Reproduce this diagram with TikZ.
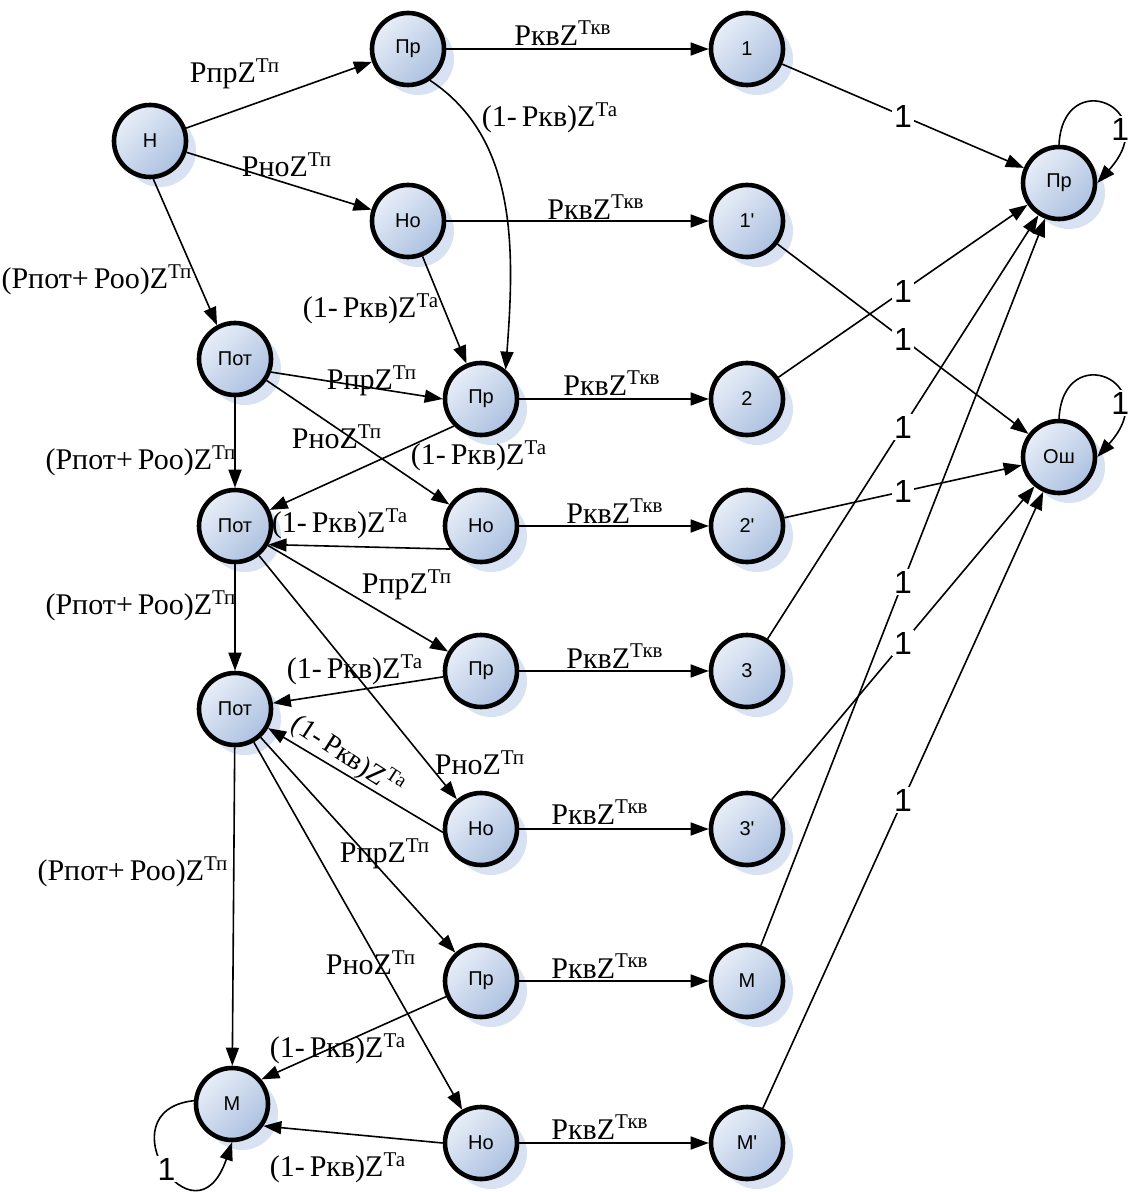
\documentclass[tikz,border=0pt]{standalone}
\usepackage{fontspec}
\setmainfont{Liberation Serif}
\newfontfamily\sansnode{Liberation Sans}
\usepackage{tikz}
\usetikzlibrary{shadows, arrows.meta, positioning}
\definecolor{nodelight}{RGB}{232,238,248}
\definecolor{nodedark}{RGB}{172,193,224}
\definecolor{shadowblue}{RGB}{216,226,242}
\newcommand{\kvT}{РквZ\textsuperscript{Ткв}}
\newcommand{\prT}{РпрZ\textsuperscript{Тп}}
\newcommand{\noT}{РноZ\textsuperscript{Тп}}
\newcommand{\potT}{(Рпот+\,Роо)Z\textsuperscript{Тп}}
\newcommand{\backT}{(1-\,Ркв)Z\textsuperscript{Та}}
\tikzset{
    state/.style={circle, draw, line width=2.3pt, minimum size=36pt, inner sep=0pt,
        top color=nodelight, bottom color=nodedark, shading angle=45,
        general shadow={fill=shadowblue, shadow xshift=5pt, shadow yshift=-5pt},
        font=\sansnode\fontsize{10}{11}\selectfont}, % states of the graph
    arr/.style={-{Triangle[length=9pt,width=6.5pt]}, line width=0.8pt},
    lbl/.style={inner sep=0pt, font=\fontsize{15}{17}\selectfont}, % transition labels
    one/.style={fill=white, inner sep=1pt, font=\sansnode\fontsize{16}{18}\selectfont}
}

\begin{document}
\begin{tikzpicture}[x=0.5pt, y=0.5pt]
    \useasboundingbox (0,0) rectangle (1130,-1192);
    % left part
    \node[state] (nH) at (150,-141) {Н};
    \node[state] (prA) at (408,-49) {Пр};
    \node[state] (noA) at (408,-221) {Но};
    \node[state] (potA) at (235,-359) {Пот};
    \node[state] (prB) at (481,-399) {Пр};
    \node[state] (potB) at (235,-526) {Пот};
    \node[state] (noB) at (481,-526) {Но};
    \node[state] (prC) at (481,-671) {Пр};
    \node[state] (potC) at (235,-709) {Пот};
    \node[state] (noC) at (481,-829) {Но};
    \node[state] (prD) at (481,-981) {Пр};
    \node[state] (mm) at (232,-1104) {М};
    \node[state] (noD) at (481,-1143) {Но};
    % checks
    \node[state] (s1) at (747,-49) {1};
    \node[state] (s1p) at (747,-221) {1'};
    \node[state] (s2) at (747,-399) {2};
    \node[state] (s2p) at (747,-526) {2'};
    \node[state] (s3) at (747,-671) {3};
    \node[state] (s3p) at (747,-829) {3'};
    \node[state] (sM) at (747,-981) {М};
    \node[state] (sMp) at (747,-1143) {М'};
    % final states
    \node[state] (prR) at (1059,-183) {Пр};
    \node[state] (err) at (1059,-457) {Ош};

    \path[arr] (nH) edge (prA);
    \path[arr] (nH) edge (noA);
    \path[arr] (nH.-85) edge (potA.118);
    \path[arr] (prA) edge (s1);
    \draw[arr] (prA.-55) .. controls +(88,-58) and +(9,119) .. (prB.50);
    \path[arr] (noA) edge (s1p);
    \path[arr] (noA) edge (prB);
    \path[arr] (potA.-20) edge (prB.west);
    \path[arr] (potA) edge (noB);
    \path[arr] (potA) edge (potB);
    \path[arr] (prB) edge (s2);
    \path[arr] (prB.225) edge (potB.25);
    \path[arr] (noB.217) edge (potB.-29);
    \path[arr] (noB) edge (s2p);
    \path[arr] (potB) edge (prC);
    \path[arr] (potB) edge (noC);
    \path[arr] (potB) edge (potC);
    \path[arr] (prC) edge (s3);
    \path[arr] (prC) edge (potC);
    \path[arr] (noC.185) edge (potC.-30);
    \path[arr] (noC) edge (s3p);
    \path[arr] (potC) edge (prD);
    \path[arr] (potC) edge (noD);
    \path[arr] (potC) edge (mm);
    \path[arr] (prD) edge (sM);
    \path[arr] (prD) edge (mm.40);
    \path[arr] (noD.west) edge (mm.-35);
    \path[arr] (noD) edge (sMp);

    \draw[arr] (s1) -- node[one] (w1) {1} (prR);
    \draw[arr] (s1p) -- node[one] (w2) {1} (err);
    \draw[arr] (s2) -- node[one] (w3) {1} (prR);
    \draw[arr] (s2p) -- node[one] (w4) {1} (err);
    \draw[arr] (s3) -- node[one] (w5) {1} (prR);
    \draw[arr] (s3p) -- node[one] (w6) {1} (err);
    \draw[arr] (sM) -- node[one] (w7) {1} (prR);
    \draw[arr] (sMp) -- node[one] (w8) {1} (err);

    % loops
    \draw[arr] (prR.north) .. controls +(4,80) and +(68,76) .. node[one, pos=0.72] (w9) {1} (prR.east);
    \draw[arr] (err.north) .. controls +(4,80) and +(68,76) .. node[one, pos=0.72] (w10) {1} (err.east);
    \draw[arr] (mm.175) .. controls +(-92,-10) and +(-37,-110) .. node[one, pos=0.52] (w11) {1} (mm.south);

    % transition labels
    \node[lbl] (l1) at (235,-74) {\prT};
    \node[lbl] (l2) at (287,-165) {\noT};
    \node[lbl] (l3) at (97,-280) {\potT};
    \node[lbl] (l4) at (563,-33) {\kvT};
    \node[lbl] (l5) at (550,-118) {\backT};
    \node[lbl] (l6) at (596,-207) {\kvT};
    \node[lbl] (l7) at (371,-309) {\backT};
    \node[lbl] (l8) at (372,-381) {\prT};
    \node[lbl] (l9) at (612,-383) {\kvT};
    \node[lbl] (l10) at (337,-437) {\noT};
    \node[lbl] (l11) at (141,-461) {\potT};
    \node[lbl] (l12) at (479,-456) {\backT};
    \node[lbl] (l13) at (340,-524) {\backT};
    \node[lbl] (l14) at (615,-511) {\kvT};
    \node[lbl] (l15) at (407,-585) {\prT};
    \node[lbl] (l16) at (141,-606) {\potT};
    \node[lbl] (l17) at (355,-670) {\backT};
    \node[lbl] (l18) at (615,-656) {\kvT};
    \node[lbl] (l19) at (480,-763) {\noT};
    \node[lbl, rotate=-33, font=\fontsize{14}{16}\selectfont] (l20) at (348,-756) {\backT};
    \node[lbl] (l21) at (600,-812) {\kvT};
    \node[lbl] (l22) at (385,-854) {\prT};
    \node[lbl] (l23) at (133,-872) {\potT};
    \node[lbl] (l24) at (371,-963) {\noT};
    \node[lbl] (l25) at (600,-966) {\kvT};
    \node[lbl] (l26) at (338,-1049) {\backT};
    \node[lbl] (l27) at (338,-1168) {\backT};
    \node[lbl] (l28) at (600,-1127) {\kvT};
\end{tikzpicture}
\end{document}
